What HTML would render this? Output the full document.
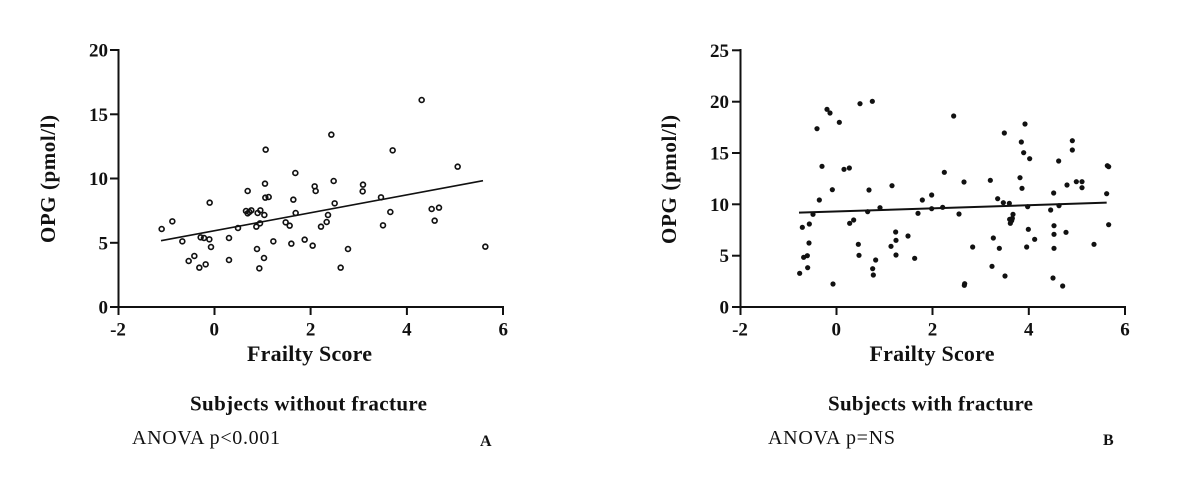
<!DOCTYPE html>
<html>
<head>
<meta charset="utf-8">
<style>
html,body{margin:0;padding:0;background:#fff;}
svg{display:block;}
text{font-family:"Liberation Serif","Times New Roman",serif;fill:#111;}
.b{font-weight:bold;}
</style>
</head>
<body>
<svg width="1200" height="483" viewBox="0 0 1200 483" xmlns="http://www.w3.org/2000/svg">
<rect width="1200" height="483" fill="#fff"/>

<!-- ============ PANEL A ============ -->
<g stroke="#111" stroke-width="2" fill="none">
  <line x1="118.5" y1="49" x2="118.5" y2="308"/>
  <line x1="117.5" y1="307" x2="504" y2="307"/>
  <line x1="110" y1="307" x2="118" y2="307"/>
  <line x1="110" y1="242.8" x2="118" y2="242.8"/>
  <line x1="110" y1="178.5" x2="118" y2="178.5"/>
  <line x1="110" y1="114.3" x2="118" y2="114.3"/>
  <line x1="110" y1="50" x2="118" y2="50"/>
  <line x1="118.5" y1="307" x2="118.5" y2="315"/>
  <line x1="214.5" y1="307" x2="214.5" y2="315"/>
  <line x1="310.6" y1="307" x2="310.6" y2="315"/>
  <line x1="406.9" y1="307" x2="406.9" y2="315"/>
  <line x1="503" y1="307" x2="503" y2="315"/>
</g>
<g class="b" font-size="19" text-anchor="end">
  <text x="108" y="313.5">0</text>
  <text x="108" y="249.3">5</text>
  <text x="108" y="185">10</text>
  <text x="108" y="120.8">15</text>
  <text x="108" y="56.5">20</text>
</g>
<g class="b" font-size="19" text-anchor="middle">
  <text x="118" y="335.5">-2</text>
  <text x="214.3" y="335.5">0</text>
  <text x="310.6" y="335.5">2</text>
  <text x="406.9" y="335.5">4</text>
  <text x="503.2" y="335.5">6</text>
</g>
<text class="b" font-size="22" x="309.5" y="361" text-anchor="middle" textLength="125" lengthAdjust="spacing">Frailty Score</text>
<text class="b" font-size="21" transform="translate(55 179) rotate(-90)" text-anchor="middle" textLength="128" lengthAdjust="spacing">OPG (pmol/l)</text>
<text class="b" font-size="21" x="190" y="410.5" textLength="237" lengthAdjust="spacing">Subjects without fracture</text>
<text font-size="20" x="132" y="444" textLength="148" lengthAdjust="spacing">ANOVA p&lt;0.001</text>
<text class="b" font-size="16" x="480" y="446">A</text>

<g transform="translate(80 30) scale(0.333333)">
  <line x1="243" y1="632" x2="1209" y2="452" stroke="#111" stroke-width="4.8"/>
  <g fill="none" stroke="#111" stroke-width="5">
    <circle cx="245" cy="597" r="7.3"/><circle cx="277" cy="574" r="7.3"/><circle cx="307" cy="634" r="7.3"/>
    <circle cx="326" cy="693" r="7.3"/><circle cx="343" cy="678" r="7.3"/><circle cx="358" cy="713" r="7.3"/>
    <circle cx="362" cy="622" r="7.3"/><circle cx="372" cy="624" r="7.3"/><circle cx="377" cy="703" r="7.3"/>
    <circle cx="388" cy="628" r="7.3"/><circle cx="389" cy="518" r="7.3"/><circle cx="393" cy="651" r="7.3"/>
    <circle cx="447" cy="624" r="7.3"/><circle cx="447" cy="690" r="7.3"/><circle cx="474" cy="594" r="7.3"/>
    <circle cx="498" cy="543" r="7.3"/><circle cx="503" cy="483" r="7.3"/><circle cx="503" cy="550" r="7.3"/>
    <circle cx="508" cy="546" r="7.3"/><circle cx="514" cy="541" r="7.3"/><circle cx="529" cy="590" r="7.3"/>
    <circle cx="531" cy="657" r="7.3"/><circle cx="533" cy="549" r="7.3"/><circle cx="538" cy="715" r="7.3"/>
    <circle cx="540" cy="580" r="7.3"/><circle cx="541" cy="541" r="7.3"/><circle cx="552" cy="684" r="7.3"/>
    <circle cx="553" cy="555" r="7.3"/><circle cx="555" cy="461" r="7.3"/><circle cx="556" cy="503" r="7.3"/>
    <circle cx="557" cy="359" r="7.3"/><circle cx="566" cy="501" r="7.3"/><circle cx="580" cy="634" r="7.3"/>
    <circle cx="617" cy="577" r="7.3"/><circle cx="629" cy="587" r="7.3"/><circle cx="634" cy="641" r="7.3"/>
    <circle cx="640" cy="509" r="7.3"/><circle cx="646" cy="429" r="7.3"/><circle cx="647" cy="549" r="7.3"/>
    <circle cx="674" cy="629" r="7.3"/><circle cx="698" cy="647" r="7.3"/><circle cx="704" cy="469" r="7.3"/>
    <circle cx="707" cy="483" r="7.3"/><circle cx="723" cy="590" r="7.3"/><circle cx="740" cy="576" r="7.3"/>
    <circle cx="744" cy="555" r="7.3"/><circle cx="754" cy="314" r="7.3"/><circle cx="761" cy="453" r="7.3"/>
    <circle cx="764" cy="520" r="7.3"/><circle cx="782" cy="713" r="7.3"/><circle cx="804" cy="657" r="7.3"/>
    <circle cx="848" cy="484" r="7.3"/><circle cx="849" cy="464" r="7.3"/><circle cx="903" cy="502" r="7.3"/>
    <circle cx="909" cy="586" r="7.3"/><circle cx="931" cy="546" r="7.3"/><circle cx="938" cy="361" r="7.3"/>
    <circle cx="1025" cy="210" r="7.3"/><circle cx="1055" cy="537" r="7.3"/><circle cx="1064" cy="572" r="7.3"/>
    <circle cx="1077" cy="533" r="7.3"/><circle cx="1133" cy="410" r="7.3"/><circle cx="1216" cy="650" r="7.3"/>
  </g>
</g>

<!-- ============ PANEL B ============ -->
<g stroke="#111" stroke-width="2" fill="none">
  <line x1="740.5" y1="49" x2="740.5" y2="308"/>
  <line x1="739.5" y1="307" x2="1126" y2="307"/>
  <line x1="732" y1="307" x2="740" y2="307"/>
  <line x1="732" y1="255.7" x2="740" y2="255.7"/>
  <line x1="732" y1="204.3" x2="740" y2="204.3"/>
  <line x1="732" y1="153" x2="740" y2="153"/>
  <line x1="732" y1="101.7" x2="740" y2="101.7"/>
  <line x1="732" y1="50.3" x2="740" y2="50.3"/>
  <line x1="740.5" y1="307" x2="740.5" y2="315"/>
  <line x1="836.5" y1="307" x2="836.5" y2="315"/>
  <line x1="932.5" y1="307" x2="932.5" y2="315"/>
  <line x1="1028.8" y1="307" x2="1028.8" y2="315"/>
  <line x1="1125" y1="307" x2="1125" y2="315"/>
</g>
<g class="b" font-size="19" text-anchor="end">
  <text x="729" y="313.5">0</text>
  <text x="729" y="262.2">5</text>
  <text x="729" y="210.8">10</text>
  <text x="729" y="159.5">15</text>
  <text x="729" y="108.2">20</text>
  <text x="729" y="56.8">25</text>
</g>
<g class="b" font-size="19" text-anchor="middle">
  <text x="740" y="335.5">-2</text>
  <text x="836.3" y="335.5">0</text>
  <text x="932.5" y="335.5">2</text>
  <text x="1028.8" y="335.5">4</text>
  <text x="1125" y="335.5">6</text>
</g>
<text class="b" font-size="22" x="932" y="361" text-anchor="middle" textLength="125" lengthAdjust="spacing">Frailty Score</text>
<text class="b" font-size="21" transform="translate(676 179.5) rotate(-90)" text-anchor="middle" textLength="129" lengthAdjust="spacing">OPG (pmol/l)</text>
<text class="b" font-size="21" x="828" y="410.5" textLength="205" lengthAdjust="spacing">Subjects with fracture</text>
<text font-size="20" x="768" y="444" textLength="127" lengthAdjust="spacing">ANOVA p=NS</text>
<text class="b" font-size="16" x="1103" y="445">B</text>

<g transform="translate(700 30) scale(0.333333)">
  <line x1="297" y1="548" x2="1220" y2="518" stroke="#111" stroke-width="6"/>
  <g fill="#111">
    <circle cx="299" cy="730" r="7.8"/><circle cx="307" cy="592" r="7.8"/><circle cx="311" cy="682" r="7.8"/>
    <circle cx="322" cy="677" r="7.8"/><circle cx="323" cy="713" r="7.8"/><circle cx="327" cy="639" r="7.8"/>
    <circle cx="328" cy="582" r="7.8"/><circle cx="339" cy="553" r="7.8"/><circle cx="351" cy="296" r="7.8"/>
    <circle cx="358" cy="510" r="7.8"/><circle cx="366" cy="409" r="7.8"/><circle cx="381" cy="238" r="7.8"/>
    <circle cx="390" cy="249" r="7.8"/><circle cx="397" cy="479" r="7.8"/><circle cx="399" cy="762" r="7.8"/>
    <circle cx="418" cy="277" r="7.8"/><circle cx="432" cy="418" r="7.8"/><circle cx="448" cy="414" r="7.8"/>
    <circle cx="449" cy="580" r="7.8"/><circle cx="461" cy="570" r="7.8"/><circle cx="475" cy="643" r="7.8"/>
    <circle cx="477" cy="676" r="7.8"/><circle cx="480" cy="221" r="7.8"/><circle cx="503" cy="545" r="7.8"/>
    <circle cx="507" cy="480" r="7.8"/><circle cx="517" cy="214" r="7.8"/><circle cx="518" cy="716" r="7.8"/>
    <circle cx="520" cy="735" r="7.8"/><circle cx="527" cy="690" r="7.8"/><circle cx="540" cy="533" r="7.8"/>
    <circle cx="573" cy="649" r="7.8"/><circle cx="576" cy="467" r="7.8"/><circle cx="587" cy="606" r="7.8"/>
    <circle cx="588" cy="631" r="7.8"/><circle cx="588" cy="675" r="7.8"/><circle cx="624" cy="618" r="7.8"/>
    <circle cx="644" cy="685" r="7.8"/><circle cx="654" cy="550" r="7.8"/><circle cx="667" cy="510" r="7.8"/>
    <circle cx="695" cy="495" r="7.8"/><circle cx="695" cy="536" r="7.8"/><circle cx="728" cy="532" r="7.8"/>
    <circle cx="733" cy="427" r="7.8"/><circle cx="761" cy="258" r="7.8"/><circle cx="777" cy="552" r="7.8"/>
    <circle cx="792" cy="456" r="7.8"/><circle cx="793" cy="766" r="7.8"/><circle cx="794" cy="761" r="7.8"/>
    <circle cx="818" cy="651" r="7.8"/><circle cx="871" cy="451" r="7.8"/><circle cx="876" cy="709" r="7.8"/>
    <circle cx="880" cy="624" r="7.8"/><circle cx="893" cy="506" r="7.8"/><circle cx="898" cy="655" r="7.8"/>
    <circle cx="910" cy="518" r="7.8"/><circle cx="913" cy="309" r="7.8"/><circle cx="915" cy="738" r="7.8"/>
    <circle cx="928" cy="520" r="7.8"/><circle cx="929" cy="568" r="7.8"/><circle cx="931" cy="580" r="7.8"/>
    <circle cx="935" cy="572" r="7.8"/><circle cx="937" cy="565" r="7.8"/><circle cx="939" cy="553" r="7.8"/>
    <circle cx="960" cy="443" r="7.8"/><circle cx="964" cy="336" r="7.8"/><circle cx="966" cy="475" r="7.8"/>
    <circle cx="971" cy="368" r="7.8"/><circle cx="975" cy="282" r="7.8"/><circle cx="980" cy="651" r="7.8"/>
    <circle cx="983" cy="530" r="7.8"/><circle cx="985" cy="598" r="7.8"/><circle cx="989" cy="386" r="7.8"/>
    <circle cx="1004" cy="628" r="7.8"/><circle cx="1052" cy="540" r="7.8"/><circle cx="1059" cy="744" r="7.8"/>
    <circle cx="1061" cy="489" r="7.8"/><circle cx="1062" cy="587" r="7.8"/><circle cx="1062" cy="613" r="7.8"/>
    <circle cx="1062" cy="655" r="7.8"/><circle cx="1076" cy="393" r="7.8"/><circle cx="1077" cy="527" r="7.8"/>
    <circle cx="1088" cy="768" r="7.8"/><circle cx="1098" cy="607" r="7.8"/><circle cx="1101" cy="465" r="7.8"/>
    <circle cx="1117" cy="332" r="7.8"/><circle cx="1117" cy="360" r="7.8"/><circle cx="1129" cy="455" r="7.8"/>
    <circle cx="1146" cy="455" r="7.8"/><circle cx="1146" cy="473" r="7.8"/><circle cx="1182" cy="643" r="7.8"/>
    <circle cx="1220" cy="491" r="7.8"/><circle cx="1222" cy="407" r="7.8"/><circle cx="1226" cy="410" r="7.8"/>
    <circle cx="1226" cy="584" r="7.8"/>
  </g>
</g>
</svg>
</body>
</html>
